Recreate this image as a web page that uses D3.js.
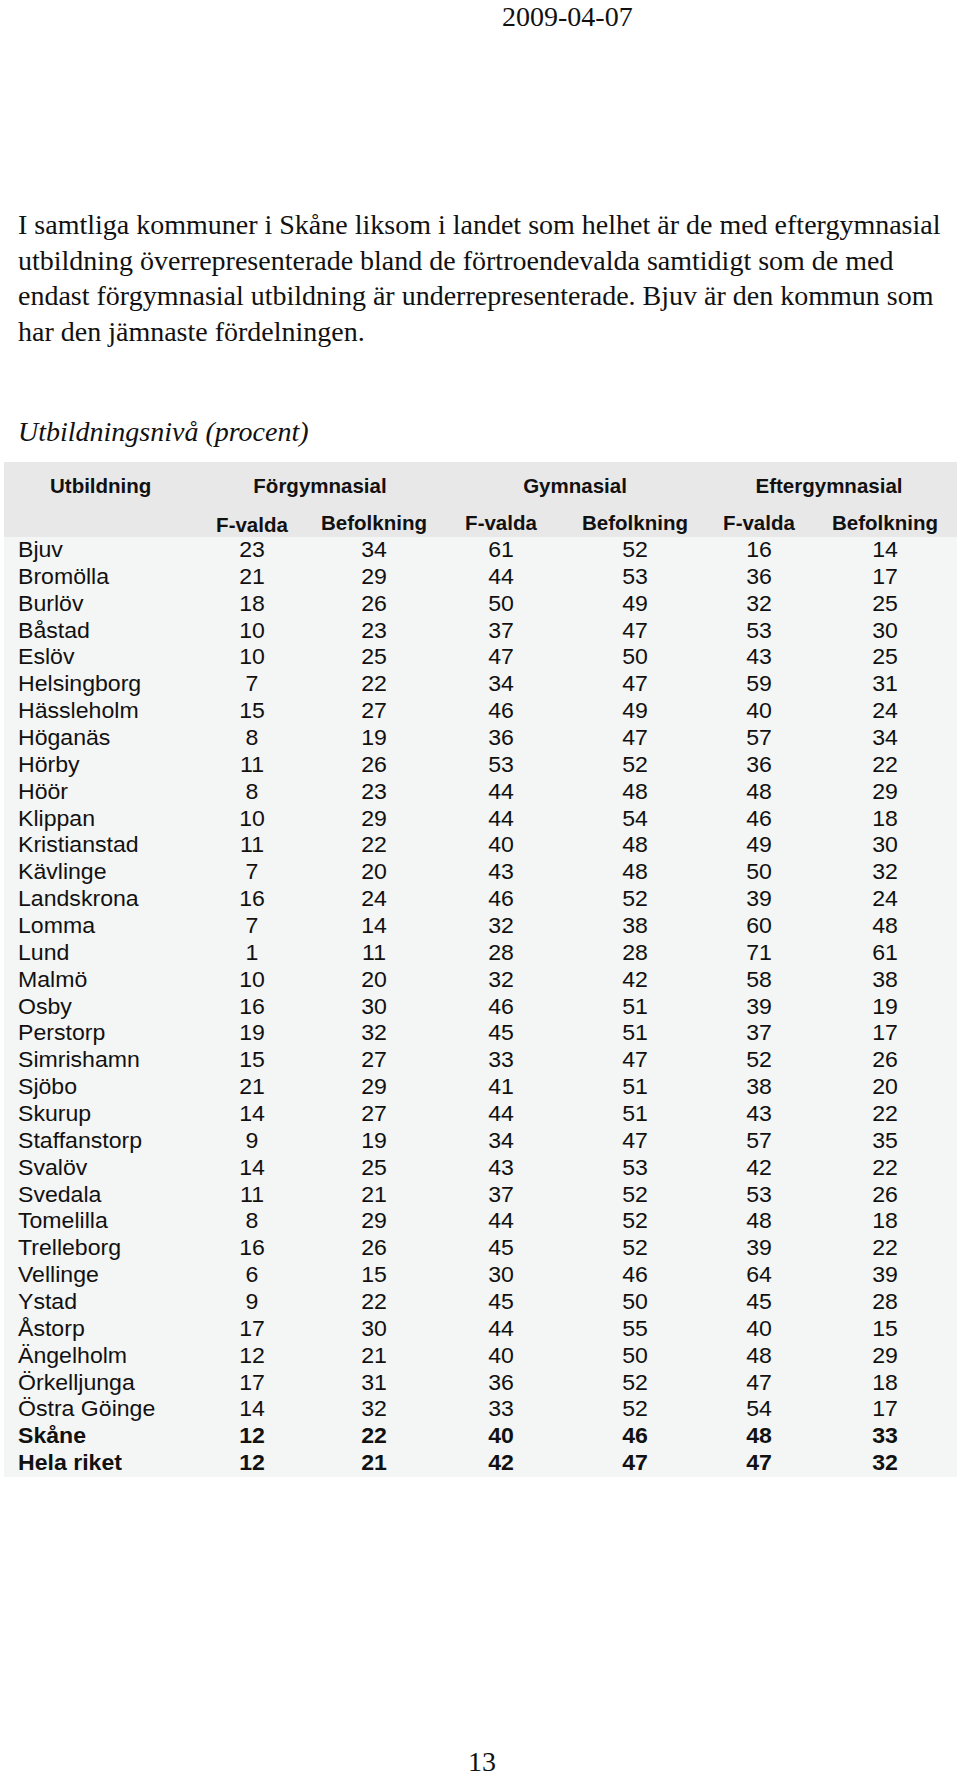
<!DOCTYPE html>
<html>
<head>
<meta charset="utf-8">
<script src="https://cdn.jsdelivr.net/npm/d3@7"></script>
<style>
  body { margin: 0; background: #fff; }
  .serif { font-family: "Liberation Serif", "Times New Roman", serif; fill: #111; }
  .sans { font-family: "Liberation Sans", Arial, Helvetica, sans-serif; fill: #111; }
</style>
</head>
<body>
<div id="page"></div>
<script>
/* Utbildningsnivå per kommun, F-valda vs befolkning */

const pageDate = "2009-04-07"
const pageNumber = "13"

const paragraphLines = [
  "I samtliga kommuner i Skåne liksom i landet som helhet är de med eftergymnasial",
  "utbildning överrepresenterade bland de förtroendevalda samtidigt som de med",
  "endast förgymnasial utbildning är underrepresenterade. Bjuv är den kommun som",
  "har den jämnaste fördelningen."
]

const tableTitle = "Utbildningsnivå (procent)"
const rowHeader = "Utbildning"
const groups = ["Förgymnasial", "Gymnasial", "Eftergymnasial"]
const subHeaders = ["F-valda", "Befolkning"]

const municipalities = ["Bjuv", "Bromölla", "Burlöv", "Båstad", "Eslöv", "Helsingborg",
  "Hässleholm", "Höganäs", "Hörby", "Höör", "Klippan", "Kristianstad", "Kävlinge",
  "Landskrona", "Lomma", "Lund", "Malmö", "Osby", "Perstorp", "Simrishamn", "Sjöbo",
  "Skurup", "Staffanstorp", "Svalöv", "Svedala", "Tomelilla", "Trelleborg", "Vellinge",
  "Ystad", "Åstorp", "Ängelholm", "Örkelljunga", "Östra Göinge", "Skåne", "Hela riket"]

const boldRows = ["Skåne", "Hela riket"]

const forgymnasialFvalda = [23, 21, 18, 10, 10, 7, 15, 8, 11, 8, 10, 11, 7, 16, 7, 1, 10, 16, 19, 15, 21, 14, 9, 14, 11, 8, 16, 6, 9, 17, 12, 17, 14, 12, 12]
const forgymnasialBefolkning = [34, 29, 26, 23, 25, 22, 27, 19, 26, 23, 29, 22, 20, 24, 14, 11, 20, 30, 32, 27, 29, 27, 19, 25, 21, 29, 26, 15, 22, 30, 21, 31, 32, 22, 21]
const gymnasialFvalda = [61, 44, 50, 37, 47, 34, 46, 36, 53, 44, 44, 40, 43, 46, 32, 28, 32, 46, 45, 33, 41, 44, 34, 43, 37, 44, 45, 30, 45, 44, 40, 36, 33, 40, 42]
const gymnasialBefolkning = [52, 53, 49, 47, 50, 47, 49, 47, 52, 48, 54, 48, 48, 52, 38, 28, 42, 51, 51, 47, 51, 51, 47, 53, 52, 52, 52, 46, 50, 55, 50, 52, 52, 46, 47]
const eftergymnasialFvalda = [16, 36, 32, 53, 43, 59, 40, 57, 36, 48, 46, 49, 50, 39, 60, 71, 58, 39, 37, 52, 38, 43, 57, 42, 53, 48, 39, 64, 45, 40, 48, 47, 54, 48, 47]
const eftergymnasialBefolkning = [14, 17, 25, 30, 25, 31, 24, 34, 22, 29, 18, 30, 32, 24, 48, 61, 38, 19, 17, 26, 20, 22, 35, 22, 26, 18, 22, 39, 28, 15, 29, 18, 17, 33, 32]

const seriesValues = [forgymnasialFvalda, forgymnasialBefolkning, gymnasialFvalda,
  gymnasialBefolkning, eftergymnasialFvalda, eftergymnasialBefolkning]

const width = 960, height = 1778

const svg = d3.select("#page").append("svg")
  .attr("width", width)
  .attr("height", height)

// header text of the page
svg.append("text")
  .attr("class", "serif")
  .attr("x", 502)
  .attr("y", 26)
  .style("font-size", "28px")
  .text(pageDate)

svg.append("g")
  .selectAll("text")
  .data(paragraphLines)
  .enter().append("text")
  .attr("class", "serif")
  .attr("x", 18)
  .attr("y", function (d, i) { return 234 + i * 35.5 })
  .style("font-size", "28px")
  .text(function (d) { return d })

svg.append("text")
  .attr("class", "serif")
  .attr("x", 18)
  .attr("y", 441)
  .style("font-size", "28px")
  .style("font-style", "italic")
  .text(tableTitle)

// table
const tableLeft = 4, tableRight = 957
const headTop = 462, bodyTop = 537, bodyBottom = 1477
const stretch = 1.05   // body text in the source is a little wider than Arial

const colKeys = d3.range(seriesValues.length)
const x = d3.scaleOrdinal()
  .domain(colKeys)
  .range([252, 374, 501, 635, 759, 885])

const y = d3.scaleBand()
  .domain(municipalities)
  .range([bodyTop, bodyBottom])

svg.append("rect")
  .attr("x", tableLeft)
  .attr("y", headTop)
  .attr("width", tableRight - tableLeft)
  .attr("height", bodyTop - headTop)
  .style("fill", "#e8e8e8")

svg.append("rect")
  .attr("x", tableLeft)
  .attr("y", bodyTop)
  .attr("width", tableRight - tableLeft)
  .attr("height", bodyBottom - bodyTop)
  .style("fill", "#f4f5f5")

const head = svg.append("g")
  .attr("class", "sans")
  .style("font-size", "20.5px")
  .style("font-weight", "bold")

head.append("text")
  .attr("x", 50)
  .attr("y", 493)
  .text(rowHeader)

head.selectAll(".group")
  .data(groups)
  .enter().append("text")
  .attr("class", "group")
  .attr("x", function (d, i) { return (x(i * 2) + x(i * 2 + 1)) / 2 + 7 })
  .attr("y", 493)
  .style("text-anchor", "middle")
  .text(function (d) { return d })

head.selectAll(".sub")
  .data(colKeys)
  .enter().append("text")
  .attr("class", "sub")
  .attr("x", function (d) { return x(d) })
  .attr("y", function (d) { return d === 0 ? 532 : 529.5 })
  .style("text-anchor", "middle")
  .text(function (d) { return subHeaders[d % 2] })

// body rows
const rows = svg.append("g")
  .attr("class", "sans")
  .style("font-size", "22px")
  .selectAll(".row")
  .data(municipalities)
  .enter().append("g")
  .attr("class", "row")
  .attr("transform", function (d) { return "translate(0," + (y(d) + 20) + ") scale(" + stretch + ",1)" })
  .style("font-weight", function (d) { return boldRows.includes(d) ? "bold" : "normal" })

rows.append("text")
  .attr("x", 18 / stretch)
  .text(function (d) { return d })

rows.selectAll(".val")
  .data(function (d, r) { return colKeys.map(function (c) { return {col: c, value: seriesValues[c][r]} }) })
  .enter().append("text")
  .attr("class", "val")
  .attr("x", function (d) { return x(d.col) / stretch })
  .style("text-anchor", "middle")
  .text(function (d) { return d.value })

svg.append("text")
  .attr("class", "serif")
  .attr("x", 482)
  .attr("y", 1771)
  .style("font-size", "28px")
  .style("text-anchor", "middle")
  .text(pageNumber)
</script>
</body>
</html>
